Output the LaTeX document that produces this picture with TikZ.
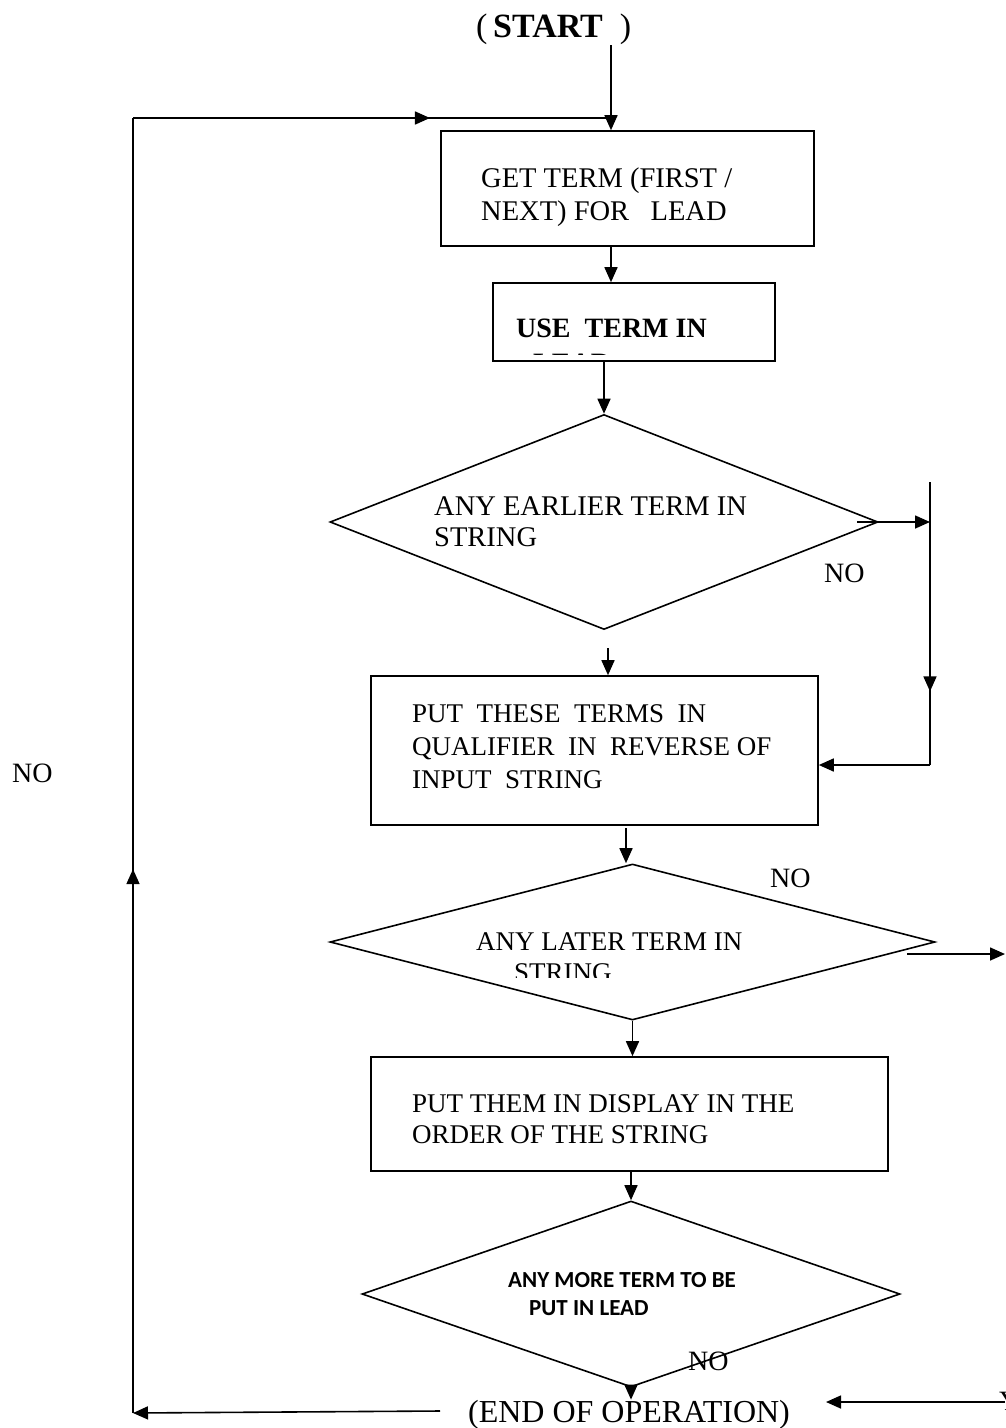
\documentclass[tikz,border=0pt]{standalone}
\usepackage{fontspec}
\setmainfont{Liberation Serif}
\newfontfamily\calib{Carlito}
\usetikzlibrary{shapes.geometric,arrows.meta,decorations.markings}
\tikzset{
  ln/.style={line width=1.6pt},
  arr/.style={ln,-{Triangle[length=15pt,width=13pt]}},
  midarr/.style={ln,postaction={decorate},decoration={markings,mark=at position #1 with {\arrow{Triangle[length=15pt,width=13pt]}}}},
  boxnode/.style={draw,line width=1.6pt,rectangle,inner sep=0pt},
  dianode/.style={draw,line width=1.6pt,diamond,inner sep=0pt},
  txt/.style={anchor=base west,inner sep=0pt,font=\fontsize{27}{31}\selectfont},
  lbl/.style={anchor=base west,inner sep=0pt,font=\fontsize{28}{32}\selectfont},
}
\begin{document}
\begin{tikzpicture}[x=1pt,y=-1pt]
\useasboundingbox (0,0) rectangle (1005,1428);
\fill[white] (0,0) rectangle (1005,1428);

% start
\node[anchor=base west,inner sep=0pt,font=\fontsize{34}{38}\selectfont] (start) at (476,37) {(\,\textbf{START}\ \ )};

% boxes
\node[boxnode,minimum width=373pt,minimum height=115pt] (box1) at (627.5,188.5) {};
\node[boxnode,minimum width=282pt,minimum height=78pt] (box2) at (634,322) {};
\node[boxnode,minimum width=447pt,minimum height=149pt] (box3) at (594.5,750.5) {};
\node[boxnode,minimum width=517pt,minimum height=114pt] (box4) at (629.5,1114) {};

% diamonds
\node[dianode,minimum width=548pt,minimum height=215pt] (d1) at (604,522) {};
\node[dianode,minimum width=605pt,minimum height=156pt] (d2) at (632.5,942) {};
\node[dianode,minimum width=538pt,minimum height=186pt] (d3) at (631,1294) {};

% texts
\node[txt,font=\fontsize{28.5}{33}\selectfont] (t1a) at (481,187) {GET TERM (FIRST /};
\node[txt,font=\fontsize{28.5}{33}\selectfont] (t1b) at (481,220) {NEXT) FOR~~ LEAD};
\node[txt,font=\bfseries\fontsize{28}{32}\selectfont] (t2a) at (516,337) {USE~ TERM IN};
\begin{scope}
\clip (493,283) rectangle (775,354);
\node[txt,font=\bfseries\fontsize{28}{32}\selectfont] (t2b) at (533,372) {LEAD};
\end{scope}
\node[txt,font=\fontsize{28.5}{33}\selectfont] (t3a) at (434,515) {ANY EARLIER TERM IN};
\node[txt,font=\fontsize{28.5}{33}\selectfont] (t3b) at (434,546) {STRING};
\node[txt] (t4a) at (412,722) {PUT~ THESE~ TERMS~ IN};
\node[txt] (t4b) at (412,755) {QUALIFIER~ IN~ REVERSE OF};
\node[txt] (t4c) at (412,788) {INPUT~ STRING};
\node[txt] (t5a) at (476,950) {ANY LATER TERM IN};
\begin{scope}
\clip (400,900) rectangle (800,977);
\node[txt] (t5b) at (514,981) {STRING};
\end{scope}
\node[txt] (t6a) at (412,1112) {PUT THEM IN DISPLAY IN THE};
\node[txt] (t6b) at (412,1143) {ORDER OF THE STRING};
\node[anchor=base west,inner sep=0pt,font=\calib\bfseries\fontsize{23}{27}\selectfont] (t7a) at (508,1287) {ANY MORE TERM TO BE};
\node[anchor=base west,inner sep=0pt,font=\calib\bfseries\fontsize{23}{27}\selectfont] (t7b) at (529,1315) {PUT IN LEAD};
\node[anchor=base,inner sep=0pt,font=\fontsize{32}{36}\selectfont] (endop) at (629,1422) {(END OF OPERATION)};

% NO labels
\node[lbl] (no1) at (824,582) {NO};
\node[lbl] (no2) at (770,887) {NO};
\node[lbl] (no3) at (688,1370) {NO};
\node[lbl] (no4) at (12,782) {NO};
\node[lbl] (yes) at (999,1410) {Y};

% coordinates
\coordinate (s0) at (611,45);
\coordinate (lA) at (440,1411);
\coordinate (lB) at (133,1413);
\coordinate (lC) at (133,118);
\coordinate (lD) at (612,118);
\coordinate (r0) at (857,522);
\coordinate (r1) at (930,482);
\coordinate (r2) at (930,765);
\coordinate (q) at (608,648);
\coordinate (p) at (626,828);
\coordinate (e0) at (907,954);
\coordinate (e1) at (1005,954);
\coordinate (yR) at (1005,1402);
\coordinate (yT) at (826,1402);

% connectors
\draw[arr] (s0) -- (box1.north -| s0);
\draw[arr] (lA) -- (lB);
\draw[midarr=0.42] (lB) -- (lC);
\draw[midarr=0.62] (lC) -- (lD);
\draw[arr] (box1.south -| s0) -- (box2.north -| s0);
\draw[arr] (box2.south -| d1.north) -- (d1.north);
\draw[arr] (r0) -- (r1 |- r0);
\draw[midarr=0.74] (r1) -- (r2);
\draw[arr] (r2) -- (box3.east |- r2);
\draw[arr] (q) -- (box3.north -| q);
\draw[arr] (p) -- (p |- d2.north);
\draw[arr] (e0) -- (e1);
\draw[arr] (d2.south) -- (box4.north -| d2.south);
\draw[arr] (box4.south -| d3.north) -- (d3.north);
\draw[arr] (d3.south) -- (endop.north -| d3.south);
\draw[arr] (yR) -- (yT);
\end{tikzpicture}
\end{document}
